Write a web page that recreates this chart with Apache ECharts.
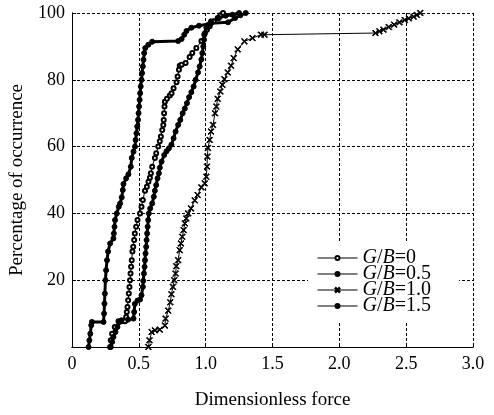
<!DOCTYPE html>
<html><head><meta charset="utf-8">
<script src="https://cdn.jsdelivr.net/npm/echarts@6/dist/echarts.min.js"></script>
<style>html,body{margin:0;padding:0;background:#fff}#c{width:494px;height:415px}</style>
</head><body><div id="c"></div>
<script>
// Legend names
const seriesNames = ['G/B=0', 'G/B=0.5', 'G/B=1.0', 'G/B=1.5'];
// x tick values
const xTicks = [0, 0.5, 1.0, 1.5, 2.0, 2.5, 3.0];
const yTicks = [0, 20, 40, 60, 80, 100];

// [dimensionless force, percentage of occurrence]
const gb0 = [[0.285,0],[0.29,2],[0.30,4],[0.32,6],[0.348,7.7],[0.37,7.7],[0.397,7.7],[0.405,9],[0.41,10.5],[0.415,12],[0.42,14],[0.425,16],[0.43,18],[0.434,20],[0.438,22],[0.442,24],[0.447,26],[0.452,28.6],[0.458,30],[0.465,32],[0.47,34],[0.48,36],[0.49,38],[0.509,40],[0.52,42],[0.53,44],[0.546,46.8],[0.56,48],[0.572,49.5],[0.583,50.7],[0.59,52],[0.60,54],[0.62,56.6],[0.63,58],[0.645,60],[0.657,61.6],[0.665,63],[0.675,65],[0.683,66.5],[0.686,68],[0.689,70],[0.692,72],[0.695,73.4],[0.71,74.3],[0.732,75.3],[0.745,76],[0.76,77.5],[0.782,79.3],[0.79,81],[0.80,83],[0.806,84.2],[0.82,84.5],[0.85,85],[0.88,86.8],[0.90,88],[0.93,89.5],[0.968,91.6],[0.99,93.6],[1.01,95],[1.03,96],[1.06,97.5],[1.09,98.5],[1.11,99.3],[1.13,100]];
const gb05 = [[0.29,0],[0.30,1.5],[0.31,3],[0.325,4.5],[0.34,6],[0.355,7.5],[0.37,8],[0.42,8.2],[0.46,8.5],[0.465,10.5],[0.47,12.9],[0.49,13.9],[0.509,14.2],[0.52,15.5],[0.53,18],[0.533,19.8],[0.538,22],[0.543,24],[0.546,26],[0.55,28],[0.555,30],[0.558,32],[0.562,34],[0.566,36],[0.57,38],[0.575,40],[0.585,41.5],[0.60,43],[0.612,45],[0.62,46.8],[0.63,48.5],[0.64,50.5],[0.65,52],[0.657,53.7],[0.67,55.5],[0.69,57.5],[0.707,58.6],[0.725,59.5],[0.744,60.6],[0.76,62.5],[0.775,64.5],[0.794,66.5],[0.81,68],[0.828,70],[0.844,71.4],[0.86,73],[0.876,74.8],[0.893,76.3],[0.91,78],[0.925,80],[0.943,82.2],[0.955,84],[0.968,86.1],[0.975,88],[0.982,90],[0.988,92],[0.995,94],[1.005,95.6],[1.02,96.5],[1.04,97.5],[1.10,98.5],[1.15,99.2],[1.20,99.5],[1.25,100]];
const gb10 = [[0.571,0],[0.58,2],[0.596,4.5],[0.62,5],[0.657,5.2],[0.695,6.4],[0.70,8.5],[0.72,10.9],[0.735,13.4],[0.744,15.8],[0.755,18],[0.765,20],[0.775,22],[0.78,24.2],[0.794,26],[0.806,29],[0.815,31],[0.825,33],[0.835,35],[0.844,37],[0.855,38.5],[0.869,40],[0.89,41.5],[0.918,43.9],[0.94,45.5],[0.968,47.8],[0.993,49],[1.005,51],[1.01,54],[1.013,57],[1.017,59.6],[1.03,62],[1.04,64.5],[1.055,66.5],[1.07,70],[1.08,72],[1.09,74.3],[1.11,76.5],[1.125,78.5],[1.14,80.2],[1.165,82.2],[1.19,84.2],[1.21,86.5],[1.24,89.1],[1.29,91.5],[1.35,92.5],[1.414,93.5],[1.44,93.5],[2.27,94],[2.30,94.5],[2.33,95],[2.37,95.8],[2.41,96.5],[2.45,97.2],[2.49,97.9],[2.52,98.4],[2.556,98.9],[2.58,99.4],[2.605,100]];
const gb15 = [[0.124,0],[0.13,2],[0.137,4],[0.144,6.5],[0.149,7.5],[0.236,7.5],[0.24,10],[0.243,13],[0.246,16],[0.25,20],[0.255,23],[0.262,26],[0.27,28.6],[0.285,31],[0.31,32.5],[0.313,34],[0.318,36],[0.322,38],[0.335,40],[0.35,42],[0.36,43],[0.372,44.8],[0.38,47],[0.385,48.8],[0.405,50.5],[0.422,51.7],[0.44,54],[0.447,56.6],[0.46,58.5],[0.471,60],[0.476,62],[0.482,64],[0.488,66],[0.494,68],[0.498,70],[0.502,72],[0.506,74],[0.51,76],[0.514,78],[0.52,80],[0.524,82],[0.53,84],[0.535,86],[0.54,88],[0.548,89.5],[0.571,90.5],[0.60,91.4],[0.794,91.6],[0.82,92.2],[0.84,93.5],[0.856,94.6],[0.893,95.6],[0.95,96.2],[1.04,96.9],[1.167,97.2],[1.22,98.5],[1.26,99.3],[1.30,100]];

const FONT = '"Liberation Serif", "DejaVu Serif", serif';
const crossPath = 'path://M0,1L1,0L5,4L9,0L10,1L6,5L10,9L9,10L5,6L1,10L0,9L4,5Z';

const chart = echarts.init(document.getElementById('c'), null, {renderer: 'canvas'});
const splitLine = {show: true, lineStyle: {color: '#000', width: 1, type: [3, 2]}};
function mk(name, data, symbol, size, lw) {
  return {
    name, type: 'line', data, symbol, symbolSize: size, showSymbol: true,
    lineStyle: {color: '#000', width: lw},
    itemStyle: {color: '#000', borderColor: '#000', borderWidth: 1},
    emphasis: {disabled: true}, animation: false, z: 3
  };
}
chart.setOption({
  animation: false,
  grid: {left: 70, right: 21, top: 13, bottom: 63, show: false},
  legend: {
    orient: 'vertical', left: 308, top: 241,
    padding: [7, 28, 7, 9], itemGap: -4,
    backgroundColor: '#fff',
    itemWidth: 40, itemHeight: 5,
    data: seriesNames,
    lineStyle: {width: 1, color: '#000'},
    formatter: n => n.replace('G/B', '{i|G}/{i|B}'),
    textStyle: {fontFamily: FONT, fontSize: 20, color: '#000', lineHeight: 16,
      rich: {i: {fontStyle: 'italic', fontFamily: FONT, fontSize: 20, color: '#000', lineHeight: 16}}}
  },
  xAxis: [{
    type: 'value', min: xTicks[0], max: xTicks[xTicks.length - 1], interval: 0.5,
    name: 'Dimensionless force', nameLocation: 'middle', nameGap: 44,
    nameTextStyle: {fontFamily: FONT, fontSize: 19, color: '#000'},
    axisLine: {show: true, onZero: false, lineStyle: {color: '#000', width: 1}},
    axisTick: {show: true, inside: true, length: 4, lineStyle: {color: '#000'}},
    axisLabel: {fontFamily: FONT, fontSize: 18, color: '#000', margin: 8,
      formatter: v => v === 0 ? '0' : v.toFixed(1)},
    splitLine
  }, {
    type: 'value', position: 'top', min: 0, max: 3, interval: 0.5,
    axisLine: {show: true, lineStyle: {color: '#000', width: 1}},
    axisTick: {show: false}, axisLabel: {show: false}, splitLine: {show: false}
  }],
  yAxis: [{
    type: 'value', min: yTicks[0], max: yTicks[yTicks.length - 1], interval: 20,
    name: 'Percentage of occurrence', nameLocation: 'middle', nameGap: 45,
    nameTextStyle: {fontFamily: FONT, fontSize: 19, color: '#000'},
    axisLine: {show: true, onZero: false, lineStyle: {color: '#000', width: 1}},
    axisTick: {show: true, inside: true, length: 4, lineStyle: {color: '#000'}},
    axisLabel: {fontFamily: FONT, fontSize: 18, color: '#000', margin: 7,
      formatter: v => v === 0 ? '' : String(v)},
    splitLine
  }, {
    type: 'value', position: 'right', min: 0, max: 100, interval: 20,
    axisLine: {show: true, lineStyle: {color: '#000', width: 1}},
    axisTick: {show: false}, axisLabel: {show: false}, splitLine: {show: false}
  }],
  series: [
    mk(seriesNames[0], gb0, 'emptyCircle', 4, 1),
    mk(seriesNames[1], gb05, 'circle', 5, 3),
    mk(seriesNames[2], gb10, crossPath, 6, 1),
    mk(seriesNames[3], gb15, 'circle', 5, 3)
  ]
});
</script></body></html>
